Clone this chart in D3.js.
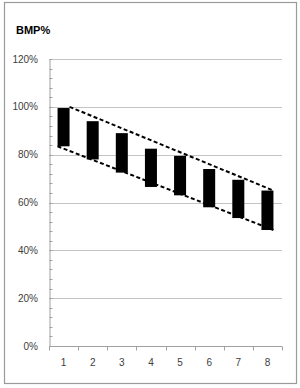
<!DOCTYPE html>
<html>
<head>
<meta charset="utf-8">
<script src="https://cdn.jsdelivr.net/npm/d3@7"></script>
<style>
  html, body { margin: 0; padding: 0; background: #fff; }
  #container { width: 300px; height: 388px; }
  text { font-family: "Liberation Sans", Arial, sans-serif; }
</style>
</head>
<body>
<div id="container"></div>
<script>
"use strict";

const categories = ["1", "2", "3", "4", "5", "6", "7", "8"];
const highValues = [99.5, 94, 89, 82.5, 79.5, 74, 69.5, 65];
const lowValues = [83.5, 78, 72.5, 66.5, 63, 58, 53.5, 48.5];
// Dashed guide lines: [value at category 1, value at category 8].
const upperTrend = [100, 65];
const lowerTrend = [83.5, 48.5];
const yMajorTicks = [0, 20, 40, 60, 80, 100, 120];
const yMinorTicks = d3.range(0, 121, 4);

const width = 300;
const height = 388;
const plot = { left: 49, right: 282, top: 59, bottom: 346 };
const barWidth = 12;

const svg = d3
  .create("svg")
  .attr("width", width)
  .attr("height", height);

// Outer frame.
svg
  .append("rect")
  .attr("x", 4.5)
  .attr("y", 2.5)
  .attr("width", 292)
  .attr("height", 381)
  .attr("fill", "#fff")
  .attr("stroke", "#9a9a9a")
  .attr("stroke-width", 1.2);

const x = d3.scaleBand().domain(categories).range([plot.left, plot.right]);
const y = d3.scaleLinear().domain([0, 120]).range([plot.bottom, plot.top]);

// Gridlines.
svg
  .append("g")
  .selectAll("line")
  .data(yMajorTicks.filter((d) => d > 0))
  .enter()
  .append("line")
  .attr("x1", plot.left)
  .attr("x2", plot.right)
  .attr("y1", (d) => Math.round(y(d)) + 0.5)
  .attr("y2", (d) => Math.round(y(d)) + 0.5)
  .attr("stroke", "#c4c4c4")
  .attr("stroke-width", 1);

// Draw y-axis (minor ticks inside, labels on majors).
const yAxis = svg
  .append("g")
  .attr("transform", `translate(${plot.left + 0.5}, 0)`)
  .call(
    d3
      .axisRight(y)
      .tickValues(yMinorTicks)
      .tickSize(3)
      .tickSizeOuter(0)
      .tickFormat("")
  );
yAxis.selectAll("line").attr("stroke", "#a0a0a0");
yAxis.select(".domain").attr("stroke", "#a0a0a0");
yAxis.selectAll(".tick").attr("transform", (d) => `translate(0, ${Math.round(y(d)) + 0.5})`);

svg
  .append("g")
  .selectAll("text")
  .data(yMajorTicks)
  .enter()
  .append("text")
  .attr("x", 38)
  .attr("y", (d) => y(d) + 3.5)
  .attr("text-anchor", "end")
  .attr("font-size", 10)
  .attr("fill", "#404040")
  .text((d) => d + "%");

// Draw x-axis.
const xAxisY = Math.round(y(0)) + 0.5;
svg
  .append("line")
  .attr("x1", plot.left)
  .attr("x2", plot.right)
  .attr("y1", xAxisY)
  .attr("y2", xAxisY)
  .attr("stroke", "#a0a0a0");
svg
  .append("g")
  .selectAll("line")
  .data(categories.map((c) => x(c)).concat([x(categories[categories.length - 1]) + x.bandwidth()]))
  .enter()
  .append("line")
  .attr("x1", (d) => Math.round(d) + 0.5)
  .attr("x2", (d) => Math.round(d) + 0.5)
  .attr("y1", xAxisY)
  .attr("y2", xAxisY + 4)
  .attr("stroke", "#a0a0a0");
svg
  .append("g")
  .selectAll("text")
  .data(categories)
  .enter()
  .append("text")
  .attr("x", (d) => x(d) + x.bandwidth() / 2)
  .attr("y", 365.5)
  .attr("text-anchor", "middle")
  .attr("font-size", 10)
  .attr("fill", "#404040")
  .text((d) => d);

// Draw bars.
svg
  .append("g")
  .selectAll("rect")
  .data(categories)
  .enter()
  .append("rect")
  .attr("x", (d) => x(d) + x.bandwidth() / 2 - barWidth / 2)
  .attr("y", (d, i) => y(highValues[i]))
  .attr("width", barWidth)
  .attr("height", (d, i) => y(lowValues[i]) - y(highValues[i]))
  .attr("fill", "#000");

// Dashed guide lines.
const first = categories[0];
const last = categories[categories.length - 1];
const barLeft = (c) => x(c) + x.bandwidth() / 2 - barWidth / 2;
const barRight = (c) => barLeft(c) + barWidth;
const guides = [
  [[barRight(first), y(upperTrend[0])], [barRight(last), y(upperTrend[1])]],
  [[barLeft(first), y(lowerTrend[0])], [barRight(last), y(lowerTrend[1])]],
];
svg
  .append("g")
  .selectAll("path")
  .data(guides)
  .enter()
  .append("path")
  .attr("d", d3.line())
  .attr("fill", "none")
  .attr("stroke", "#000")
  .attr("stroke-width", 2)
  .attr("stroke-dasharray", "4,2.5");

// Title.
svg
  .append("text")
  .attr("x", 16)
  .attr("y", 34)
  .attr("font-size", 11)
  .attr("font-weight", "bold")
  .attr("fill", "#000")
  .text("BMP%");

d3.select("#container").append(() => svg.node());
</script>
</body>
</html>
